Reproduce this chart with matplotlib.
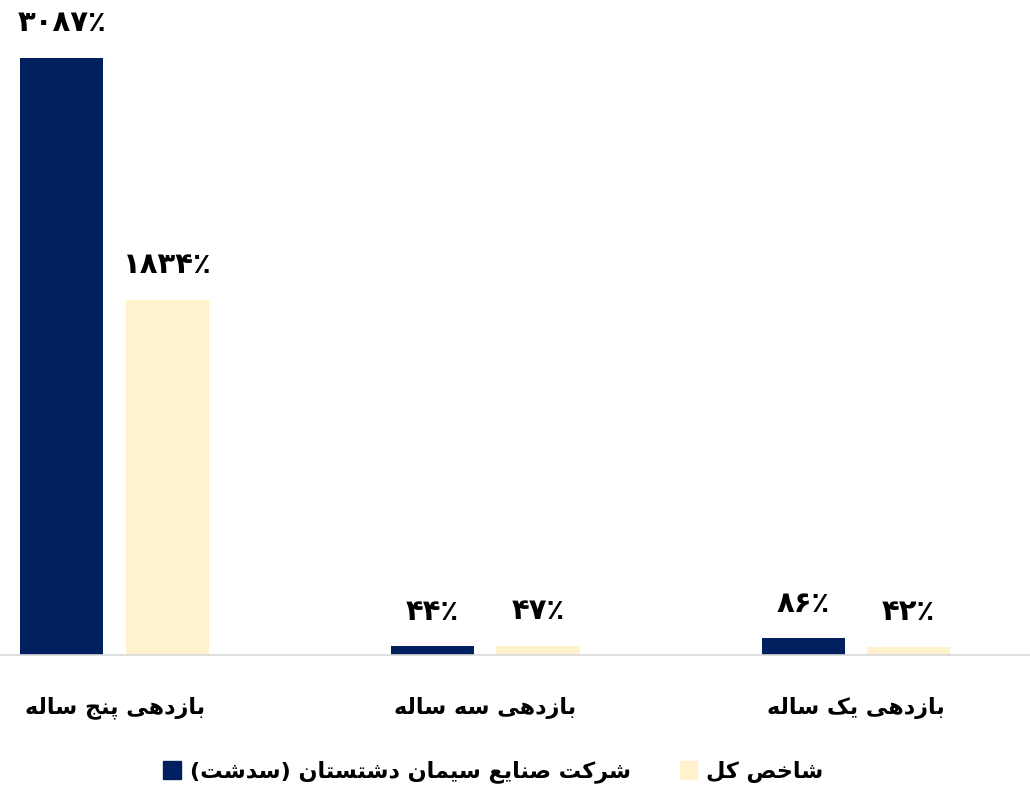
import matplotlib
matplotlib.use("Agg")
import matplotlib.pyplot as plt
from matplotlib.patches import Patch
import numpy as np

# data
categories = ["بازدهی پنج ساله", "بازدهی سه ساله", "بازدهی یک ساله"]
company_name = "شرکت صنایع سیمان دشتستان (سدشت)"
index_name = "شاخص کل"
company_vals = [3087, 44, 86]
index_vals = [1834, 47, 42]

NAVY = "#002060"
CREAM = "#FFF2CC"

# simple persian shaping (matplotlib has no complex text layout)
FORMS = {
    "ا": ("\uFE8D", "\uFE8E", None, None),
    "ب": ("\uFE8F", "\uFE90", "\uFE91", "\uFE92"),
    "پ": ("\uFB56", "\uFB57", "\uFB58", "\uFB59"),
    "ت": ("\uFE95", "\uFE96", "\uFE97", "\uFE98"),
    "ج": ("\uFE9D", "\uFE9E", "\uFE9F", "\uFEA0"),
    "خ": ("\uFEA5", "\uFEA6", "\uFEA7", "\uFEA8"),
    "د": ("\uFEA9", "\uFEAA", None, None),
    "ر": ("\uFEAD", "\uFEAE", None, None),
    "ز": ("\uFEAF", "\uFEB0", None, None),
    "س": ("\uFEB1", "\uFEB2", "\uFEB3", "\uFEB4"),
    "ش": ("\uFEB5", "\uFEB6", "\uFEB7", "\uFEB8"),
    "ص": ("\uFEB9", "\uFEBA", "\uFEBB", "\uFEBC"),
    "ع": ("\uFEC9", "\uFECA", "\uFECB", "\uFECC"),
    "ک": ("\uFB8E", "\uFB8F", "\uFB90", "\uFB91"),
    "ل": ("\uFEDD", "\uFEDE", "\uFEDF", "\uFEE0"),
    "م": ("\uFEE1", "\uFEE2", "\uFEE3", "\uFEE4"),
    "ن": ("\uFEE5", "\uFEE6", "\uFEE7", "\uFEE8"),
    "ه": ("\uFEE9", "\uFEEA", "\uFEEB", "\uFEEC"),
    "ی": ("\uFBFC", "\uFBFD", "\uFBFE", "\uFBFF"),
}


def shape(s):
    out = []
    for i, ch in enumerate(s):
        if ch not in FORMS:
            out.append(ch)
            continue
        prev = s[i - 1] if i > 0 else ""
        nxt = s[i + 1] if i + 1 < len(s) else ""
        jp = prev in FORMS and FORMS[prev][2] is not None
        jn = FORMS[ch][2] is not None and nxt in FORMS
        iso, fin, ini, med = FORMS[ch]
        if jp and jn:
            out.append(med)
        elif jp:
            out.append(fin)
        elif jn:
            out.append(ini)
        else:
            out.append(iso)
    vis = "".join(out)[::-1]
    return vis.translate(str.maketrans("()", ")("))


def fa_pct(v):
    return str(v).translate(str.maketrans("0123456789", "۰۱۲۳۴۵۶۷۸۹")) + "٪"


plt.rcParams["font.family"] = ["DejaVu Sans"]

fig = plt.figure(figsize=(10.3, 7.91), dpi=100)
ax = fig.add_axes([0, 136 / 791, 1, 655 / 791])

x = np.arange(len(categories))
w = 0.224
off = 0.142
b1 = ax.bar(x - off, company_vals, w, color=NAVY)
b2 = ax.bar(x + off, index_vals, w, color=CREAM)

for bars, vals in ((b1, company_vals), (b2, index_vals)):
    for r, v in zip(bars, vals):
        ax.annotate(fa_pct(v), (r.get_x() + r.get_width() / 2, v),
                    xytext=(0, 15), textcoords="offset points",
                    ha="center", va="bottom", fontsize=21, fontweight="bold")

ax.set_xlim(-0.309, 2.469)
ax.set_ylim(0, 3387)
ax.set_xticks(x)
ax.set_xticklabels([shape(c) for c in categories], fontsize=16, fontweight="bold")
ax.tick_params(axis="x", length=0, pad=30)
ax.set_yticks([])
for s in ("top", "left", "right"):
    ax.spines[s].set_visible(False)
ax.spines["bottom"].set_color("#D9D9D9")
ax.spines["bottom"].set_linewidth(1.2)

handles = [Patch(color=NAVY), Patch(color=CREAM)]
fig.legend(handles, [shape(company_name), shape(index_name)], ncol=2,
           loc="center", bbox_to_anchor=(0.479, 1 - 772 / 791), frameon=False,
           prop={"size": 16, "weight": "bold"}, handlelength=0.8,
           handleheight=0.9, handletextpad=0.4, columnspacing=2.2)

fig.savefig("out.png", dpi=100)
